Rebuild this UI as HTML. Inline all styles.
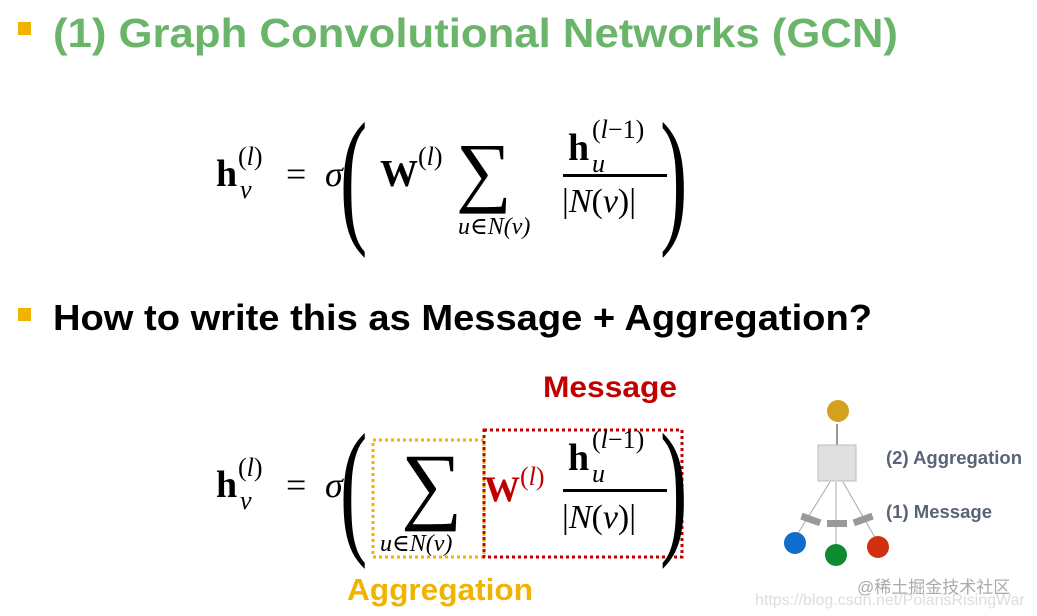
<!DOCTYPE html>
<html><head><meta charset="utf-8"><style>
html,body{margin:0;padding:0;background:#fff;}
svg{display:block}
.s{font-family:"Liberation Sans","DejaVu Sans",sans-serif;font-weight:bold}
.m{font-family:"Liberation Serif","DejaVu Serif",serif}
</style></head><body>
<svg width="1037" height="616" viewBox="0 0 1037 616" xmlns="http://www.w3.org/2000/svg">
<rect x="18" y="22" width="13" height="13" fill="#f0b400"/>
<text x="53" y="47" class="s" font-size="41" fill="#6ab56a" textLength="845" lengthAdjust="spacingAndGlyphs">(1) Graph Convolutional Networks (GCN)</text>

<!-- eq 1 -->
<g class="m">
<text x="216" y="186" font-size="38" font-weight="bold">h</text>
<text x="240" y="198" font-size="26" font-style="italic">v</text>
<text x="238" y="165" font-size="26">(<tspan font-style="italic">l</tspan>)</text>
<text x="286" y="186" font-size="36">=</text>
<text x="325" y="186" font-size="36" font-style="italic">σ</text>
<text x="340" y="226" font-size="150" transform="scale(0.55,1) translate(278,0)">(</text>
<text x="380" y="186" font-size="38" font-weight="bold">W</text>
<text x="418" y="165" font-size="26">(<tspan font-style="italic">l</tspan>)</text>
<text x="456" y="197" font-size="78">∑</text>
<text x="458" y="234" font-size="24" font-style="italic">u∈N(v)</text>
<text x="568" y="160" font-size="38" font-weight="bold">h</text>
<text x="592" y="172" font-size="26" font-style="italic">u</text>
<text x="592" y="138" font-size="26">(<tspan font-style="italic">l</tspan>−1)</text>
<rect x="563" y="174" width="104" height="3" fill="#000"/>
<text x="562" y="212" font-size="34">|<tspan font-style="italic">N</tspan>(<tspan font-style="italic">v</tspan>)|</text>
<text x="640" y="226" font-size="150" transform="scale(0.55,1) translate(560,0)">)</text>
</g>

<rect x="18" y="308" width="13" height="13" fill="#f0b400"/>
<text x="53" y="330" class="s" font-size="36" fill="#000" textLength="819" lengthAdjust="spacingAndGlyphs">How to write this as Message + Aggregation?</text>

<text x="543" y="397" class="s" font-size="30" fill="#c00000" textLength="134" lengthAdjust="spacingAndGlyphs">Message</text>
<text x="347" y="600" class="s" font-size="31" fill="#f0b400" textLength="186" lengthAdjust="spacingAndGlyphs">Aggregation</text>

<rect x="373" y="440" width="111" height="117" fill="none" stroke="#f0b400" stroke-width="3" stroke-dasharray="3 3"/>
<rect x="484" y="430" width="198" height="127" fill="none" stroke="#c00000" stroke-width="3" stroke-dasharray="3 3"/>

<g class="m">
<text x="216" y="497" font-size="38" font-weight="bold">h</text>
<text x="240" y="509" font-size="26" font-style="italic">v</text>
<text x="238" y="476" font-size="26">(<tspan font-style="italic">l</tspan>)</text>
<text x="286" y="497" font-size="36">=</text>
<text x="325" y="497" font-size="36" font-style="italic">σ</text>
<text x="340" y="537" font-size="150" transform="scale(0.55,1) translate(278,0)">(</text>
<text x="401" y="513" font-size="86">∑</text>
<text x="380" y="551" font-size="24" font-style="italic">u∈N(v)</text>
<text x="484" y="501" font-size="36" font-weight="bold" fill="#c00000">W</text>
<text x="520" y="485" font-size="26" fill="#c00000">(<tspan font-style="italic">l</tspan>)</text>
<text x="568" y="470" font-size="38" font-weight="bold">h</text>
<text x="592" y="482" font-size="26" font-style="italic">u</text>
<text x="592" y="448" font-size="26">(<tspan font-style="italic">l</tspan>−1)</text>
<rect x="563" y="489" width="104" height="3" fill="#000"/>
<text x="562" y="528" font-size="34">|<tspan font-style="italic">N</tspan>(<tspan font-style="italic">v</tspan>)|</text>
<text x="640" y="537" font-size="150" transform="scale(0.55,1) translate(560,0)">)</text>
</g>

<!-- small diagram -->
<circle cx="838" cy="411" r="11" fill="#d4a020"/>
<line x1="837" y1="445" x2="837" y2="424" stroke="#333" stroke-width="1"/>
<rect x="818" y="445" width="38" height="36" fill="#e0e0e0" stroke="#bbb"/>
<line x1="795" y1="538" x2="830" y2="482" stroke="#aaa"/>
<line x1="836" y1="547" x2="836" y2="482" stroke="#aaa"/>
<line x1="877" y1="541" x2="843" y2="482" stroke="#aaa"/>
<rect x="801" y="516" width="20" height="7" fill="#999" transform="rotate(20 811 519)"/>
<rect x="827" y="520" width="20" height="7" fill="#999"/>
<rect x="853" y="516" width="20" height="7" fill="#999" transform="rotate(-20 863 519)"/>
<circle cx="795" cy="543" r="11" fill="#0f6dcc"/>
<circle cx="836" cy="555" r="11" fill="#0f8a30"/>
<circle cx="878" cy="547" r="11" fill="#d03010"/>
<text x="886" y="464" class="s" font-size="18" fill="#5a6478" textLength="136" lengthAdjust="spacingAndGlyphs">(2) Aggregation</text>
<text x="886" y="518" class="s" font-size="18" fill="#5a6478" textLength="106" lengthAdjust="spacingAndGlyphs">(1) Message</text>
<text x="857" y="593" font-family="Liberation Sans,Noto Sans CJK SC,sans-serif" font-size="17" fill="#aaa">@稀土掘金技术社区</text>
<text x="755" y="605" font-family="Liberation Sans,sans-serif" font-size="16" fill="#ddd">https://blog.csdn.net/PolarisRisingWar</text>
</svg>
</body></html>
